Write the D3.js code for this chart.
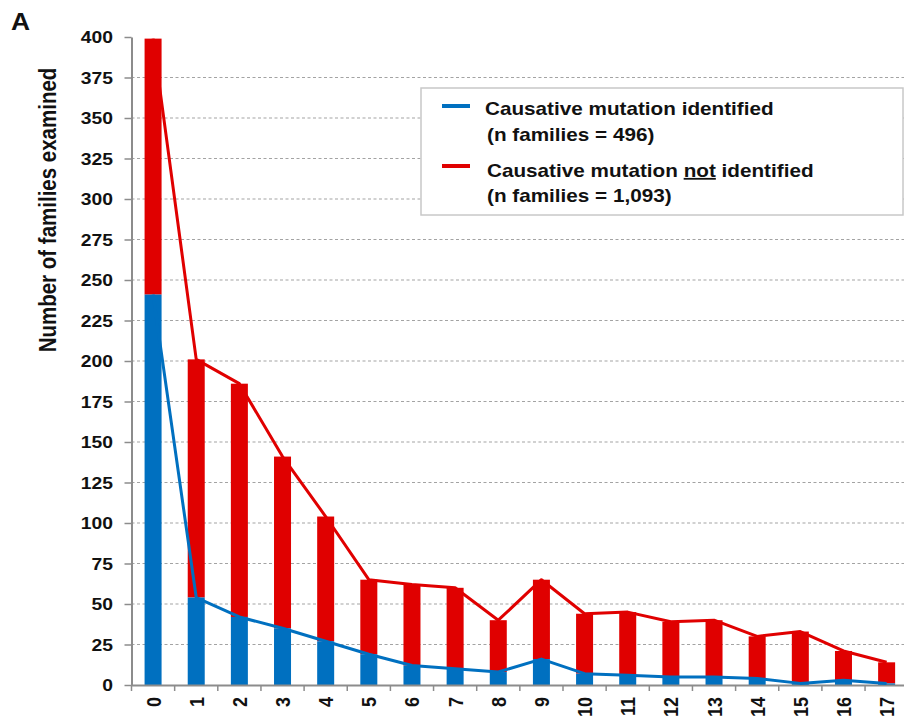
<!DOCTYPE html>
<html>
<head>
<meta charset="utf-8">
<script src="https://cdn.jsdelivr.net/npm/d3@7"></script>
<style>
  html, body { margin: 0; padding: 0; background: #fff; }
  svg { display: block; }
  text { font-family: "Liberation Sans", Arial, Helvetica, sans-serif; font-weight: bold; fill: #111; }
</style>
</head>
<body>
<svg id="chart" width="904" height="719"></svg>
<script>
// Number of affected relatives per family (x categories)
const bins = ["0","1","2","3","4","5","6","7","8","9","10","11","12","13","14","15","16","17"];
// Families with a causative mutation identified
const identified = [241, 54, 42, 35, 27, 19, 12, 10, 8, 16, 7, 6, 5, 5, 4, 1, 3, 1];
// Families where no causative mutation was identified
const notIdentified = [158, 147, 144, 106, 77, 46, 50, 50, 32, 49, 37, 39, 34, 35, 26, 32, 18, 13];
// Y axis ticks
const yTicks = d3.range(0, 401, 25);

const seriesNames = ["Causative mutation identified", "Causative mutation not identified"];
const colors = { identified: "#0070c0", notIdentified: "#e00000" };

const svg = d3.select("#chart");
const SX = 1.17; // horizontal glyph stretch

const x = d3.scaleBand().domain(bins).range([131.5, 908.2]).paddingInner(0.606).paddingOuter(0.303);
const y = d3.scaleLinear().domain([0, 400]).range([685, 37]);
const step = x.step();

const rows = bins.map((b, i) => ({ bin: b, identified: identified[i], notIdentified: notIdentified[i] }));
const stacked = d3.stack().keys(["identified", "notIdentified"])(rows);

// Panel letter
svg.append("text").attr("transform", `translate(11,30) scale(1.1,1)`)
  .style("font-size", "24px").text("A");

// Dashed horizontal gridlines
svg.append("g").selectAll("line")
  .data(yTicks.filter(v => v > 0 && v < 400))
  .join("line")
  .attr("x1", 131.5).attr("x2", 904)
  .attr("y1", d => y(d)).attr("y2", d => y(d))
  .attr("stroke", "#a3a3a3").attr("stroke-width", 1.2).attr("stroke-dasharray", "3,2.5");

// Stacked bars
svg.append("g").selectAll("g")
  .data(stacked.slice().reverse())
  .join("g")
  .attr("fill", d => colors[d.key])
  .selectAll("rect")
  .data(d => d)
  .join("rect")
  .attr("x", d => x(d.data.bin))
  .attr("width", x.bandwidth())
  .attr("y", d => y(d[1]))
  .attr("height", d => y(d[0]) - y(d[1]));

// Y axis
const yAxis = svg.append("g").attr("transform", "translate(131.5,0)")
  .call(d3.axisLeft(y).tickValues(yTicks).tickSize(7).tickSizeOuter(0).tickFormat(""));
yAxis.select(".domain").attr("stroke", "#8c8c8c").attr("stroke-width", 2);
yAxis.selectAll(".tick line").attr("stroke", "#8c8c8c").attr("stroke-width", 1.5);

// Y tick labels
svg.append("g").selectAll("text")
  .data(yTicks)
  .join("text")
  .attr("transform", d => `translate(113,${y(d) + 6}) scale(${SX},1)`)
  .attr("text-anchor", "end")
  .style("font-size", "16.5px")
  .text(d => d);

// X axis baseline and boundary ticks
const xg = svg.append("g");
xg.append("line").attr("x1", 131.5).attr("x2", 904).attr("y1", 685.5).attr("y2", 685.5)
  .attr("stroke", "#8c8c8c").attr("stroke-width", 2);
xg.selectAll("line.tk")
  .data(d3.range(bins.length + 1))
  .join("line").attr("class", "tk")
  .attr("x1", i => 131.5 + i * step).attr("x2", i => 131.5 + i * step)
  .attr("y1", 685).attr("y2", 691)
  .attr("stroke", "#8c8c8c").attr("stroke-width", 1.5);

// X tick labels (rotated)
svg.append("g").selectAll("text")
  .data(bins)
  .join("text")
  .attr("transform", d => `translate(${x(d) + x.bandwidth() / 2 + 7.5},697) scale(${SX},1) rotate(-90)`)
  .attr("text-anchor", "end")
  .style("font-size", "18px")
  .text(d => d);

// Y axis title
svg.append("text")
  .attr("transform", `translate(56,210) scale(${SX},1) rotate(-90)`)
  .attr("text-anchor", "middle")
  .style("font-size", "20.5px")
  .text("Number of families examined");

// Trend lines through bar tops
const cx = d => x(d.data.bin) + x.bandwidth() / 2;
const line = d3.line().x(cx).y(d => y(d[1]));
svg.append("path").datum(stacked[1])
  .attr("fill", "none").attr("stroke", colors.notIdentified).attr("stroke-width", 3)
  .attr("stroke-linejoin", "round").attr("d", line);
svg.append("path").datum(stacked[0])
  .attr("fill", "none").attr("stroke", colors.identified).attr("stroke-width", 3)
  .attr("stroke-linejoin", "round").attr("d", line);

// Legend
const fmt = d3.format(",");
const lg = svg.append("g");
lg.append("rect").attr("x", 421).attr("y", 88).attr("width", 482).attr("height", 127)
  .attr("fill", "#fff").attr("stroke", "#c8c8c8").attr("stroke-width", 1.5);
lg.append("rect").attr("x", 442).attr("y", 104).attr("width", 28).attr("height", 4).attr("fill", colors.identified);
lg.append("rect").attr("x", 442).attr("y", 164).attr("width", 28).attr("height", 4).attr("fill", colors.notIdentified);

const legendFont = "17.7px";
lg.append("text").attr("transform", `translate(485,115) scale(${SX},1)`).style("font-size", legendFont)
  .text(seriesNames[0]);
lg.append("text").attr("transform", `translate(487,141) scale(${SX},1)`).style("font-size", legendFont)
  .text(`(n families = ${fmt(d3.sum(identified))})`);
const t3 = lg.append("text").attr("transform", `translate(487,177) scale(${SX},1)`).style("font-size", legendFont);
t3.append("tspan").text("Causative mutation ");
t3.append("tspan").style("text-decoration", "underline").text("not");
t3.append("tspan").text(" identified");
lg.append("text").attr("transform", `translate(487,202) scale(${SX},1)`).style("font-size", legendFont)
  .text(`(n families = ${fmt(d3.sum(notIdentified))})`);
</script>
</body>
</html>
